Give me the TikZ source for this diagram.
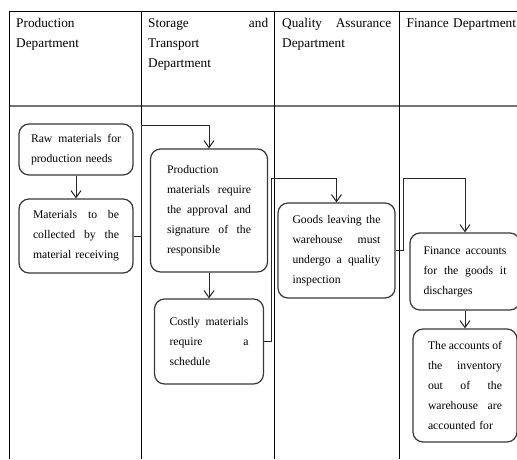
\documentclass[tikz,border=0pt]{standalone}
\usepackage{fontspec}
\setmainfont{Liberation Serif}
\usetikzlibrary{arrows.meta}
% one fully justified line, as wide as the surrounding text block
% (the ragged alignment of nodes fixes the word spaces, so free them here)
\newcommand{\jl}[1]{\makebox[\hsize][s]{\spaceskip=0pt\xspaceskip=0pt #1}}
\begin{document}
\begin{tikzpicture}[x=1pt,y=-1pt,
  grid/.style={line width=1.1pt, black},
  hrule/.style={line width=1.6pt, black!55},
  head/.style={anchor=north west, inner sep=0pt, align=left,
    font=\fontsize{13.3}{20}\selectfont},
  box/.style={draw=black!78, line width=1.2pt, rounded corners=10pt,
    align=left, inner sep=0pt, font=\fontsize{11.7}{20}\selectfont},
  link/.style={draw=black!85, line width=1pt},
  arr/.style={link, -{Straight Barb[length=7pt,width=10pt]}}]
\useasboundingbox (0,0) rectangle (517,459);
\fill[white] (0,0) rectangle (517,459);

% table frame and column rules
\draw[hrule] (9,106) -- (517,106);
\draw[grid] (9,11.5) -- (517,11.5);
\foreach \x in {9.5,141.5,274.5,399.5}
  \draw[grid] (\x,11.5) -- (\x,459);

% column headings
\node[head, text width=60pt] (h1) at (16,18) {Production\\Department};
\node[head, text width=120pt] (h2) at (148,18) {\jl{Storage and}\\Transport\\Department};
\node[head, text width=109pt] (h3) at (282,18) {\jl{Quality Assurance}\\Department};
\node[head, text width=115pt] (h4) at (406.5,18) {Finance Department};

% process steps
\node[box, minimum width=114pt, minimum height=51pt, text width=90pt] (b1) at (76,149.5)
  {\jl{Raw materials for}\\production needs};
\node[box, minimum width=114pt, minimum height=74pt, text width=86pt] (b2) at (76,236)
  {\jl{Materials to be}\\\jl{collected by the}\\\jl{material receiving}};
\node[box, minimum width=117pt, minimum height=123pt, text width=84pt] (b3) at (209,210.5)
  {Production\\\jl{materials require}\\\jl{the approval and}\\\jl{signature of the}\\responsible};
\node[box, minimum width=109pt, minimum height=85pt, text width=79pt] (b4) at (209,341.5)
  {\jl{Costly materials}\\\jl{require a}\\schedule};
\node[box, minimum width=117pt, minimum height=95pt, text width=88pt] (b5) at (336.5,250.5)
  {\jl{Goods leaving the}\\\jl{warehouse must}\\\jl{undergo a quality}\\inspection};
\node[box, minimum width=110pt, minimum height=77pt, text width=83pt] (b6) at (465,271.5)
  {\jl{Finance accounts}\\\jl{for the goods it}\\discharges};
\node[box, minimum width=104pt, minimum height=113pt, text width=74pt] (b7) at (465,385.5)
  {\jl{The accounts of}\\\jl{the inventory}\\\jl{out of the}\\\jl{warehouse are}\\accounted for};

% connectors
\coordinate (k1) at (141.5,125);
\coordinate (k2) at (271,178);
\coordinate (k3) at (403,178);
\draw[arr] (b1.south) -- (b2.north);
\draw[arr] (b2.east) -| (k1) -| (b3.north);
\draw[arr] (b3.south) -- (b4.north);
\draw[arr] (b4.east) -| (k2) -| (b5.north);
\draw[arr] (b5.east) -| (k3) -| (b6.north);
\draw[arr] (b6.south) -- (b7.north);
\end{tikzpicture}
\end{document}
